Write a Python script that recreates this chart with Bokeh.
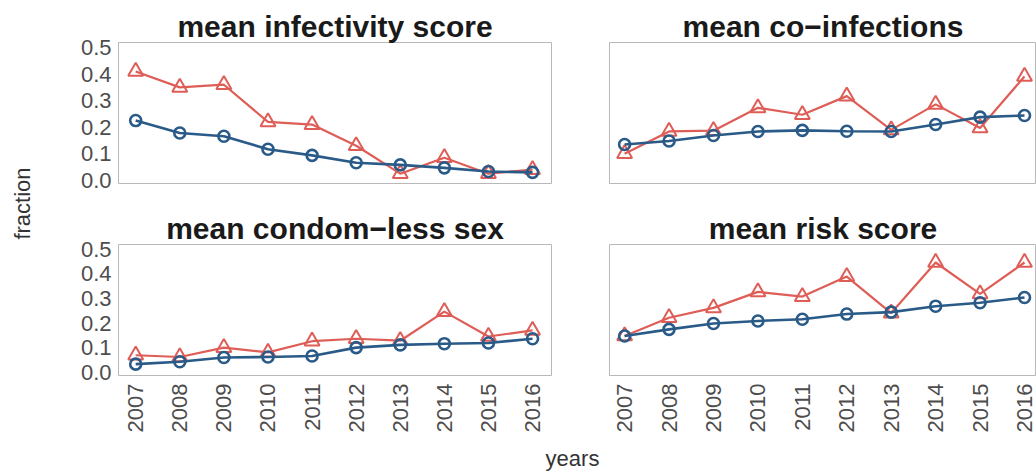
import math
from bokeh.plotting import figure
from bokeh.layouts import row, column
from bokeh.models import Range1d, FixedTicker, Label, PrintfTickFormatter
from bokeh.embed import file_html
from bokeh.resources import INLINE

# ---- data -------------------------------------------------------------
years = [2007, 2008, 2009, 2010, 2011, 2012, 2013, 2014, 2015, 2016]
year_labels = [str(y) for y in years]
y_ticks = [0.0, 0.1, 0.2, 0.3, 0.4, 0.5]

panel_titles = ["mean infectivity score", "mean co\u2212infections",
                "mean condom\u2212less sex", "mean risk score"]

infectivity_tri = [0.41, 0.35, 0.36, 0.22, 0.21, 0.13, 0.025, 0.085, 0.025, 0.04]
infectivity_circ = [0.225, 0.178, 0.166, 0.117, 0.094, 0.066, 0.058, 0.047, 0.033, 0.03]

coinfection_tri = [0.10, 0.184, 0.187, 0.273, 0.247, 0.317, 0.19, 0.286, 0.197, 0.391]
coinfection_circ = [0.135, 0.148, 0.169, 0.184, 0.188, 0.185, 0.184, 0.21, 0.238, 0.244]

condomless_tri = [0.07, 0.063, 0.101, 0.082, 0.127, 0.137, 0.129, 0.247, 0.146, 0.171]
condomless_circ = [0.034, 0.044, 0.061, 0.063, 0.067, 0.101, 0.112, 0.117, 0.12, 0.137]

risk_tri = [0.148, 0.222, 0.262, 0.327, 0.308, 0.389, 0.241, 0.446, 0.319, 0.446]
risk_circ = [0.148, 0.175, 0.199, 0.209, 0.216, 0.237, 0.245, 0.269, 0.283, 0.304]

# ---- style ------------------------------------------------------------
RED = "#DF5D57"
BLUE = "#2A5B88"
FONT = "Liberation Sans"
TICK_COLOR = "#4d4d4d"
PAGE_W, PAGE_H = 1036, 471


def panel(title, tri, circ, width, height, borders, xr, show_x, show_y):
    left, right, top, bottom = borders
    p = figure(width=width, height=height, output_backend="svg",
               toolbar_location=None, x_range=Range1d(*xr),
               y_range=Range1d(-0.012, 0.519),
               min_border_left=left, min_border_right=right,
               min_border_top=top, min_border_bottom=bottom,
               background_fill_color="white", border_fill_color="white",
               outline_line_color="#b8b8b8", outline_line_width=1)
    p.title.text = title
    p.title.align = "center"
    p.title.text_font = FONT
    p.title.text_font_style = "bold"
    p.title.text_font_size = "30px"
    p.title.text_color = "#1a1a1a"
    p.title.standoff = 0
    p.title.offset = 0
    p.grid.visible = False

    p.xaxis.ticker = FixedTicker(ticks=years)
    p.xaxis.major_label_overrides = {y: s for y, s in zip(years, year_labels)}
    p.xaxis.major_label_orientation = math.pi / 2
    p.yaxis.ticker = FixedTicker(ticks=y_ticks)
    p.yaxis.formatter = PrintfTickFormatter(format="%.1f")
    for ax in (p.xaxis[0], p.yaxis[0]):
        ax.axis_line_color = None
        ax.major_tick_line_color = None
        ax.minor_tick_line_color = None
        ax.major_tick_out = 0
        ax.major_tick_in = 0
        ax.major_label_text_font = FONT
        ax.major_label_text_font_size = "22px"
        ax.major_label_text_color = TICK_COLOR
    p.xaxis.major_label_standoff = 8
    p.yaxis.major_label_standoff = 7
    p.xaxis.visible = show_x
    p.yaxis.visible = show_y

    p.line(years, tri, line_color=RED, line_width=2.2)
    p.scatter(years, tri, marker="triangle", size=15, fill_color=None,
              line_color=RED, line_width=2)
    p.line(years, circ, line_color=BLUE, line_width=2.6)
    p.scatter(years, circ, marker="circle", size=11, fill_color=None,
              line_color=BLUE, line_width=2.6)
    return p


LEFT_X = (2006.61, 2016.43)
RIGHT_X = (2006.66, 2016.27)

p_tl = panel(panel_titles[0], infectivity_tri, infectivity_circ, 520, 209,
             (58, 29, 42, 26), LEFT_X, False, True)
p_tr = panel(panel_titles[1], coinfection_tri, coinfection_circ, 456, 209,
             (29, 0, 42, 26), RIGHT_X, False, False)
p_bl = panel(panel_titles[2], condomless_tri, condomless_circ, 520, 226,
             (58, 29, 26, 59), LEFT_X, True, True)
p_br = panel(panel_titles[3], risk_tri, risk_circ, 456, 226,
             (29, 0, 26, 59), RIGHT_X, True, False)


def strip(width, height, xr, yr):
    s = figure(width=width, height=height, output_backend="svg",
               toolbar_location=None, x_range=Range1d(*xr), y_range=Range1d(*yr),
               min_border=0, outline_line_color=None,
               background_fill_color="white", border_fill_color="white")
    s.axis.visible = False
    s.grid.visible = False
    return s


ylab = strip(60, PAGE_H, (0, 60), (PAGE_H, 0))
ylab.add_layout(Label(x=22, y=203, text="fraction", angle=math.pi / 2,
                      text_align="center", text_baseline="middle",
                      text_font=FONT, text_font_size="22px", text_color="#333333"))

xlab = strip(976, 36, (60, PAGE_W), (PAGE_H, 435))
xlab.add_layout(Label(x=572, y=458, text="years", text_align="center",
                      text_baseline="middle", text_font=FONT,
                      text_font_size="22px", text_color="#333333"))

layout = row(ylab, column(row(p_tl, p_tr), row(p_bl, p_br), xlab))

open("out.html", "w").write(file_html(layout, INLINE))
